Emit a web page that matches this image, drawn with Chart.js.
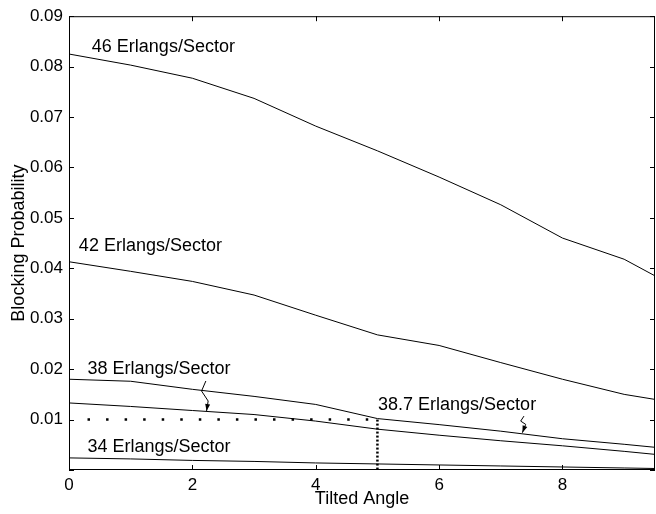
<!DOCTYPE html>
<html>
<head>
<meta charset="UTF-8">
<title>Blocking Probability vs Tilted Angle</title>
<script src="https://cdn.jsdelivr.net/npm/chart.js@4.4.1/dist/chart.umd.min.js"></script>
<style>
  body { margin: 0; background: #fff; }
  #wrap { width: 656px; height: 514px; }
</style>
</head>
<body>
<div id="wrap"><canvas id="myChart" width="656" height="514"></canvas></div>
<script>
// tilted angle (x) and blocking probability per load
const angles = [0, 1, 2, 3, 4, 5, 6, 7, 8, 9, 9.5];
const erl46  = [0.0825, 0.0803, 0.0777, 0.0737, 0.0682, 0.0633, 0.0581, 0.0526, 0.0460, 0.0418, 0.0385];
const erl42  = [0.0413, 0.0394, 0.0374, 0.0347, 0.0307, 0.0268, 0.0247, 0.0213, 0.0180, 0.0150, 0.0140];
const erl387 = [0.0180, 0.0176, 0.0160, 0.0146, 0.0130, 0.0102, 0.0090, 0.0077, 0.0062, 0.0051, 0.0045];
const erl38  = [0.0133, 0.0126, 0.0118, 0.0110, 0.0097, 0.0081, 0.0069, 0.0058, 0.0048, 0.0037, 0.0031];
const erl34  = [0.0024, 0.0022, 0.0019, 0.0017, 0.0014, 0.0012, 0.0010, 0.0008, 0.0006, 0.0004, 0.0003];

// dotted guide: 1% blocking reached at 5 degrees
const guideX = [0.3, 5];
const guideY = [0.01, 0.01];
const dropX = [5, 5];
const dropY = [0.01, 0];

const xTicks = [0, 2, 4, 6, 8];

function pts(xs, ys) {
    return xs.map((x, i) => ({ x: x, y: ys[i] }));
}

function curve(ys) {
    return { data: pts(angles, ys), borderColor: '#000', borderWidth: 1, pointRadius: 0, tension: 0 };
}

const FONT = '"Liberation Sans", Arial, Helvetica, sans-serif';

// text labels and little squiggle arrows
const notes = [
    { text: '46 Erlangs/Sector', x: 0.37, y: 0.0838 },
    { text: '42 Erlangs/Sector', x: 0.16, y: 0.0445 },
    { text: '38 Erlangs/Sector', x: 0.30, y: 0.0200 },
    { text: '38.7 Erlangs/Sector', x: 5.01, y: 0.0129 },
    { text: '34 Erlangs/Sector', x: 0.30, y: 0.0046 }
];
const arrows = [
    { x: 2.23, y: 0.0117, path: [[-0.7, -30], [-5, -20], [1.6, -10], [0, 0]] },
    { x: 7.35, y: 0.0074, path: [[1.6, -16.6], [-1.7, -11.6], [3.3, -8.3], [0, 0]] }
];

const decor = {
    id: 'decor',
    afterDraw(chart) {
        const ctx = chart.ctx;
        const a = chart.chartArea;
        const xs = chart.scales.x, ys = chart.scales.y;
        ctx.save();
        ctx.strokeStyle = '#000';
        ctx.lineWidth = 1;
        ctx.strokeRect(a.left + 0.5, a.top + 0.5, a.right - a.left - 1, a.bottom - a.top - 1);
        // inward ticks on all four sides
        ctx.beginPath();
        xs.ticks.forEach(t => {
            const px = Math.round(xs.getPixelForValue(t.value)) + 0.5;
            ctx.moveTo(px, a.bottom); ctx.lineTo(px, a.bottom - 5);
            ctx.moveTo(px, a.top); ctx.lineTo(px, a.top + 5);
        });
        ys.ticks.forEach(t => {
            const py = Math.round(ys.getPixelForValue(t.value)) + 0.5;
            ctx.moveTo(a.left, py); ctx.lineTo(a.left + 5, py);
            ctx.moveTo(a.right, py); ctx.lineTo(a.right - 5, py);
        });
        ctx.stroke();

        ctx.fillStyle = '#000';
        ctx.font = '18px ' + FONT;
        ctx.textBaseline = 'middle';
        ctx.textAlign = 'left';
        notes.forEach(n => {
            ctx.fillText(n.text, xs.getPixelForValue(n.x), ys.getPixelForValue(n.y));
        });

        arrows.forEach(ar => {
            const tx = xs.getPixelForValue(ar.x), ty = ys.getPixelForValue(ar.y);
            ctx.beginPath();
            ar.path.forEach((p, i) => {
                if (i === 0) ctx.moveTo(tx + p[0], ty + p[1]);
                else ctx.lineTo(tx + p[0], ty + p[1]);
            });
            ctx.stroke();
            const prev = ar.path[ar.path.length - 2];
            const ang = Math.atan2(-prev[1], -prev[0]);
            ctx.beginPath();
            ctx.moveTo(tx, ty);
            ctx.lineTo(tx - 7 * Math.cos(ang) + 2.5 * Math.sin(ang), ty - 7 * Math.sin(ang) - 2.5 * Math.cos(ang));
            ctx.lineTo(tx - 7 * Math.cos(ang) - 2.5 * Math.sin(ang), ty - 7 * Math.sin(ang) + 2.5 * Math.cos(ang));
            ctx.closePath();
            ctx.fill();
        });
        ctx.restore();
    }
};

new Chart('myChart', {
    type: 'line',
    data: {
        datasets: [
            curve(erl46),
            curve(erl42),
            curve(erl387),
            curve(erl38),
            curve(erl34),
            { data: pts(guideX, guideY), borderColor: '#000', borderWidth: 2.5, borderDash: [2.5, 16.05], pointRadius: 0 },
            { data: pts(dropX, dropY), borderColor: '#000', borderWidth: 2.5, borderDash: [2, 2], pointRadius: 0 }
        ]
    },
    options: {
        responsive: false,
        animation: false,
        layout: { padding: { left: 0, right: 1, top: 13, bottom: 0 } },
        plugins: { legend: { display: false }, tooltip: { enabled: false } },
        scales: {
            x: {
                type: 'linear',
                min: 0,
                max: 9.5,
                afterBuildTicks: s => { s.ticks = xTicks.map(v => ({ value: v })); },
                afterFit: s => { s.height = 44; },
                grid: { display: false, drawTicks: false },
                border: { display: false },
                ticks: { color: '#000', padding: 5, font: { family: FONT, size: 17 }, callback: v => String(v) },
                title: { display: true, text: 'Tilted Angle', color: '#000', font: { family: FONT, size: 18 }, padding: { top: 0, bottom: 4 } }
            },
            y: {
                min: 0,
                max: 0.09,
                afterBuildTicks: s => {
                    const t = [];
                    for (let i = 0; i <= 9; i++) t.push({ value: i / 100 });
                    s.ticks = t;
                },
                afterFit: s => { s.width = 69; },
                grid: { display: false, drawTicks: false },
                border: { display: false },
                ticks: { color: '#000', padding: 6, font: { family: FONT, size: 17 }, callback: v => v === 0 ? '' : v.toFixed(2) },
                title: { display: true, text: 'Blocking Probability', color: '#000', font: { family: FONT, size: 18 }, padding: { top: 8, bottom: 0 } }
            }
        }
    },
    plugins: [decor]
});
</script>
</body>
</html>
